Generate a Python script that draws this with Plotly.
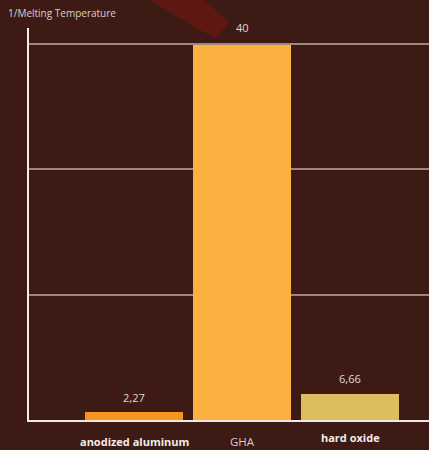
import plotly.graph_objects as go

categories = ["anodized aluminum", "GHA", "hard oxide"]
value_labels = ["2,27", "40", "6,66"]
# bar heights as drawn in the picture (axis top = 40)
bar_heights = [0.85, 39.9, 2.77]
bar_colors = ["#F7941E", "#FBB040", "#DDBD5E"]
label_bold = [True, False, True]
y_ticks = [0, 13.333, 26.667, 40]

W, H = 429, 450
ML, MR, MT, MB = 29, 0, 28, 30
plot_h = H - MT - MB

fig = go.Figure()
fig.add_trace(go.Bar(
    x=list(range(len(categories))),
    y=bar_heights,
    marker=dict(color=bar_colors, line=dict(width=0)),
    width=0.907,
    hoverinfo="skip",
))

# value labels above bars
for i, (h, t) in enumerate(zip(bar_heights, value_labels)):
    fig.add_annotation(x=i, y=h, text=t, showarrow=False, yanchor="middle",
                       yshift=15 if i != 1 else 17,
                       font=dict(family="Open Sans", size=11, color="#E2D8D4"))

# category labels
for i, (c, b) in enumerate(zip(categories, label_bold)):
    txt = f"<b>{c}</b>" if b else c
    fig.add_annotation(x=i, y=0, yref="y", text=txt, showarrow=False,
                       yanchor="middle", yshift=-21 if i != 2 else -17,
                       font=dict(family="Open Sans", size=11 if b else 11.5,
                                 color="#F2ECEA" if b else "#D6CCC9"))

# axis title at top-left
fig.add_annotation(x=0, xref="paper", xanchor="left", xshift=-23,
                   y=1, yref="paper", yanchor="bottom", yshift=6,
                   text="1/Melting Temperature", showarrow=False,
                   font=dict(family="Open Sans", size=10, color="#D8CECB"))

# decorative red brush stroke from background
def px(x):
    return (x - ML) / 400.0

def py(y):
    return (H - MB - y) / plot_h

path = "M {} {} L {} {} L {} {} L {} {} L {} {} Z".format(
    px(142), py(-5), px(198), py(-5), px(229), py(22), px(216), py(38), px(196), py(28))
fig.add_shape(type="path", path=path, xref="paper", yref="paper",
              fillcolor="rgba(130,22,14,0.5)", line=dict(width=0), layer="below")

fig.update_layout(
    width=W, height=H,
    margin=dict(l=ML, r=MR, t=MT, b=MB),
    paper_bgcolor="#3D1B14",
    plot_bgcolor="rgba(0,0,0,0)",
    showlegend=False,
    bargap=0,
    xaxis=dict(range=[-0.972, 2.731], showticklabels=False, showgrid=False,
               zeroline=False, showline=True, linecolor="#F0E8E4", linewidth=2,
               ticks=""),
    yaxis=dict(range=[0, 41.7], tickvals=y_ticks, showticklabels=False,
               showgrid=True, gridcolor="#9C8781", gridwidth=2,
               zeroline=False, showline=True, linecolor="#F5EFEC", linewidth=2,
               ticks=""),
)

fig.write_html("out.html", config={"displayModeBar": False},
               post_script="document.body.style.margin='0px';document.body.style.background='#3D1B14';")
